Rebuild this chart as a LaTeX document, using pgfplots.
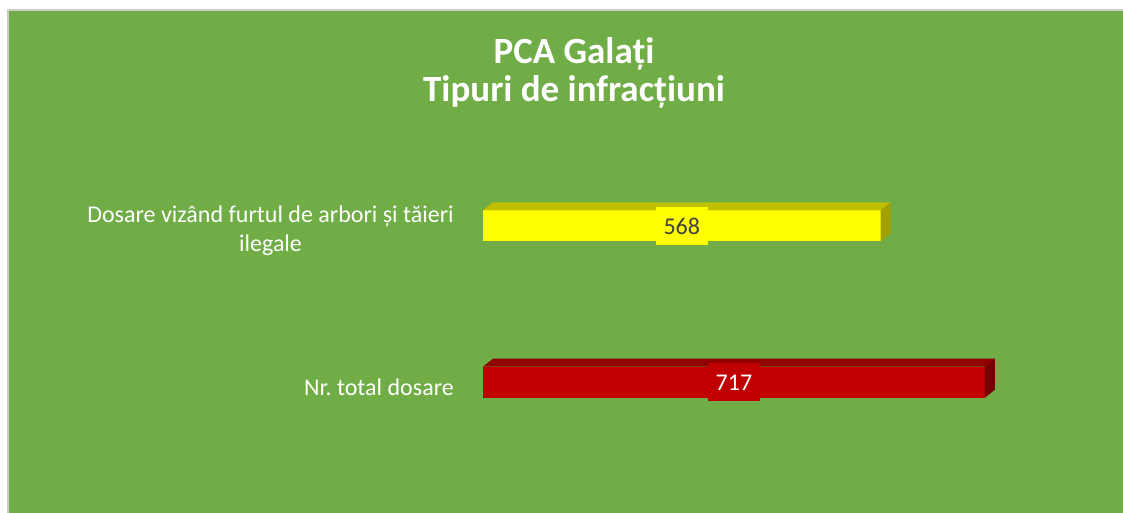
\documentclass[border=0pt]{standalone}
\usepackage{pgfplots}
\pgfplotsset{compat=1.18}
\usepackage{fontspec}
\setmainfont{Carlito}
\frenchspacing
\definecolor{bg}{HTML}{70AD47}
\definecolor{yfront}{HTML}{FFFF00}
\definecolor{ytop}{HTML}{C0C000}
\definecolor{yside}{HTML}{A0A000}
\definecolor{rfront}{HTML}{C00000}
\definecolor{rtop}{HTML}{900000}
\definecolor{rside}{HTML}{780000}
\definecolor{lbldark}{HTML}{404040}
\begin{document}
\begin{tikzpicture}[x=1pt,y=1pt]
\useasboundingbox (0,0) rectangle (1123,513);
\fill[white] (0,0) rectangle (1123,513);
\fill[bg] (8,0) rectangle (1123,503);
\draw[black!20, line width=1.5pt] (8,0) -- (8,503) -- (1123,503);
\node[font=\fontsize{37}{39}\selectfont\bfseries, text=white, anchor=base] at (574,449) {PCA Galați};
\node[font=\fontsize{37}{39}\selectfont\bfseries, text=white, anchor=base] at (574,411) {Tipuri de infracțiuni};
\begin{axis}[
  x=0.7pt, y=156.4pt,
  xmin=0, xmax=900, ymin=-0.5, ymax=1.5,
  at={(483pt,52.6pt)}, anchor=south west,
  axis line style={draw=none},
  xtick=\empty, ytick={0,1},
  yticklabels={Nr. total dosare,{Dosare vizând furtul de arbori și tăieri\\ilegale}},
  major tick length=0pt,
  yticklabel style={font=\fontsize{24}{29}\selectfont, text=white, align=center, inner sep=0pt, xshift=-29pt, yshift=-5pt},
  clip=false,
]
% front faces
\addplot[xbar, bar width=31pt, bar shift=0pt, fill=yfront, draw=none] coordinates {(568,1)};
\addplot[xbar, bar width=31pt, bar shift=0pt, fill=rfront, draw=none] coordinates {(717,0)};
% top and side faces (depth offset: 14.29 x-units, 0.0512 y-units)
\addplot[fill=ytop, draw=none] coordinates {(0,1.0991) (568,1.0991) (582.29,1.1503) (14.29,1.1503) (0,1.0991)};
\addplot[fill=yside, draw=none] coordinates {(568,1.0991) (568,0.9009) (582.29,0.9521) (582.29,1.1503) (568,1.0991)};
\addplot[fill=rtop, draw=none] coordinates {(0,0.0991) (717,0.0991) (731.29,0.1503) (14.29,0.1503) (0,0.0991)};
\addplot[fill=rside, draw=none] coordinates {(717,0.0991) (717,-0.0991) (731.29,-0.0479) (731.29,0.1503) (717,0.0991)};
% value labels
\addplot[draw=none, mark=none, nodes near coords, point meta=explicit symbolic,
  every node near coord/.append style={anchor=center, fill=yfront, text=lbldark, inner xsep=8pt, inner ysep=10.5pt, text height=16.5pt, text depth=0pt, font=\fontsize{24}{28}\selectfont}]
  coordinates {(284,1) [568]};
\addplot[draw=none, mark=none, nodes near coords, point meta=explicit symbolic,
  every node near coord/.append style={anchor=center, fill=rfront, text=white, inner xsep=8pt, inner ysep=10.5pt, text height=16.5pt, text depth=0pt, font=\fontsize{24}{28}\selectfont}]
  coordinates {(358.5,0) [717]};
\end{axis}
\end{tikzpicture}
\end{document}
